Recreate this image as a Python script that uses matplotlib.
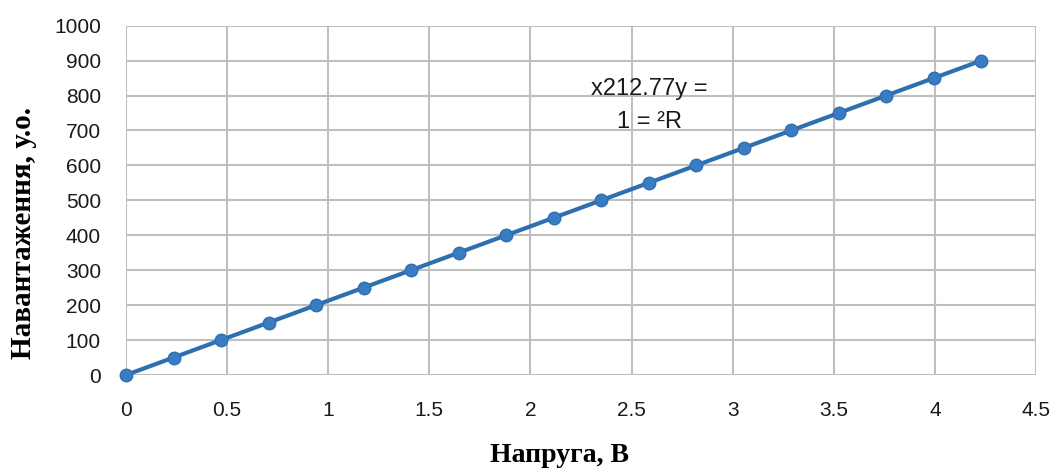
import matplotlib
matplotlib.use('Agg')
import matplotlib.pyplot as plt

# Data
voltage = [0, 0.235, 0.47, 0.705, 0.94, 1.175, 1.41, 1.645, 1.88, 2.115,
           2.35, 2.585, 2.82, 3.055, 3.29, 3.525, 3.76, 3.995, 4.23]
load = [0, 50, 100, 150, 200, 250, 300, 350, 400, 450,
        500, 550, 600, 650, 700, 750, 800, 850, 900]
x_ticks = [0, 0.5, 1, 1.5, 2, 2.5, 3, 3.5, 4, 4.5]
x_tick_labels = ['0', '0.5', '1', '1.5', '2', '2.5', '3', '3.5', '4', '4.5']
y_ticks = list(range(0, 1001, 100))

fig = plt.figure(figsize=(10.56, 4.75), dpi=100)
ax = fig.add_axes([0.1193, 0.2105, 0.8617, 0.7355])

ax.plot(voltage, load, color='#2e6fb0', linewidth=3, marker='o',
        markersize=9, markerfacecolor='#3a7cc4', markeredgecolor='#2e6fb0',
        zorder=3, clip_on=False)

ax.set_xlim(0, 4.5)
ax.set_ylim(0, 1000)
ax.set_xticks(x_ticks)
ax.set_xticklabels(x_tick_labels)
ax.set_yticks(y_ticks)
ax.grid(True, color='#bfbfbf', linewidth=1.5)
ax.set_axisbelow(True)
for s in ax.spines.values():
    s.set_visible(False)
ax.tick_params(length=0, labelsize=15, labelcolor='#1a1a1a')
ax.tick_params(axis='x', pad=19)
ax.tick_params(axis='y', pad=18)
for lab in ax.get_xticklabels() + ax.get_yticklabels():
    lab.set_family('Liberation Sans')

# trendline label, as it appears (reversed) in the original
ax.text(2.59, 820, 'x212.77y =', ha='center', va='center', fontsize=17,
        family='Liberation Sans', color='#1a1a1a')
ax.text(2.59, 723, '1 = \u00b2R', ha='center', va='center', fontsize=17,
        family='Liberation Sans', color='#1a1a1a')

fig.text(0.53, 0.042, 'Напруга, В', ha='center', va='center', fontsize=20,
         fontweight='bold', family='Liberation Serif')
fig.text(0.022, 0.51, 'Навантаження, у.о.', ha='center', va='center',
         rotation=90, fontsize=21, fontweight='bold', family='Liberation Serif')

fig.savefig('out.png', dpi=100, facecolor='white')
